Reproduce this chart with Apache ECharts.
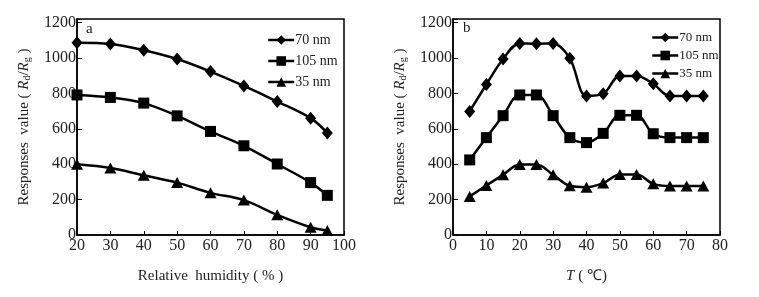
<!DOCTYPE html>
<html>
<head>
<meta charset="utf-8">
<script src="https://cdn.jsdelivr.net/npm/echarts@6/dist/echarts.min.js"></script>
<style>
  html, body { margin: 0; padding: 0; background: #fff; }
  #container { width: 759px; height: 297px; }
</style>
</head>
<body>
<div id="container"></div>
<script type="text/javascript">
// (a) response vs relative humidity
var humidity = [20, 30, 40, 50, 60, 70, 80, 90, 95];
var hum70 = [1086, 1079, 1044, 994, 923, 842, 754, 660, 576];
var hum105 = [791, 777, 745, 673, 585, 504, 401, 296, 224];
var hum35 = [399, 378, 337, 296, 238, 197, 114, 44, 25];

// (b) response vs temperature
var temps = [5, 10, 15, 20, 25, 30, 35, 40, 45, 50, 55, 60, 65, 70, 75];
var temp70 = [698, 850, 994, 1082, 1080, 1082, 998, 785, 798, 898, 898, 854, 785, 785, 785];
var temp105 = [424, 550, 674, 791, 791, 674, 550, 522, 574, 676, 676, 572, 550, 550, 550];
var temp35 = [218, 280, 340, 398, 398, 340, 278, 270, 293, 342, 342, 289, 277, 277, 277];

var yTicks = [0, 200, 400, 600, 800, 1000, 1200];
var seriesNames = ['70 nm', '105 nm', '35 nm'];
var symbols = ['diamond', 'rect', 'triangle'];

var serif = 'Liberation Serif';

function pairs(xs, ys) {
  var out = [];
  for (var i = 0; i < xs.length; i++) out.push([xs[i], ys[i]]);
  return out;
}

function mkSeries(name, xs, ys, gi) {
  var k = seriesNames.indexOf(name);
  return {
    name: name,
    type: 'line',
    xAxisIndex: gi,
    yAxisIndex: gi,
    data: pairs(xs, ys),
    smooth: 0.35,
    symbol: symbols[k],
    symbolSize: k == 0 ? [11, 13] : (k == 1 ? 11 : [12, 11]),
    lineStyle: { color: '#000', width: 2.5 },
    itemStyle: { color: '#000' },
    z: 3
  };
}

function mkX(gi, min, max, name) {
  return {
    type: 'value', gridIndex: gi, min: min, max: max, interval: 10,
    name: name, nameLocation: 'middle', nameGap: 34,
    nameTextStyle: { fontFamily: serif, fontSize: 15, color: '#222', rich: {
      i: { fontFamily: serif, fontStyle: 'italic', fontSize: 15, color: '#222' }
    } },
    axisLine: { show: true, onZero: false, lineStyle: { color: '#000', width: 1.5 } },
    axisTick: { show: true, inside: true, length: 4, lineStyle: { color: '#000' } },
    axisLabel: { fontFamily: serif, fontSize: 16, color: '#222', margin: 3 },
    splitLine: { show: false }
  };
}

function mkY(gi) {
  return {
    type: 'value', gridIndex: gi, min: 0, max: 1220, interval: 200,
    name: 'Responses  value ( {i|R}{s|d}/{i|R}{s|g} )',
    nameLocation: 'middle', nameGap: 45, nameRotate: 90,
    nameTextStyle: { fontFamily: serif, fontSize: 15, color: '#222', rich: {
      i: { fontFamily: serif, fontStyle: 'italic', fontSize: 15, color: '#222' },
      s: { fontFamily: serif, fontSize: 10, color: '#222', verticalAlign: 'bottom', padding: [6, 0, 0, 0] }
    } },
    axisLine: { show: true, lineStyle: { color: '#000', width: 1.5 } },
    axisTick: { show: true, inside: true, length: 5, lineStyle: { color: '#000' } },
    axisLabel: {
      fontFamily: serif, fontSize: 16, color: '#222', margin: 1,
      formatter: function (v) { return yTicks.indexOf(v) >= 0 ? v : ''; }
    },
    splitLine: { show: false }
  };
}

function mkLegend(left, top, gap, fs) {
  return {
    orient: 'vertical', left: left, top: top, itemGap: gap,
    itemWidth: 26, itemHeight: 12,
    data: seriesNames,
    selectedMode: false,
    lineStyle: { width: 2.5, color: '#000' },
    textStyle: { fontFamily: serif, fontSize: fs, color: '#222', padding: [0, 0, 0, -4] }
  };
}

var mychart = echarts.init(document.getElementById('container'), null, { renderer: 'canvas' });

var option = {
  animation: false,
  backgroundColor: '#fff',
  grid: [
    { left: 77, top: 19, width: 267, height: 216, show: true, borderColor: '#000', borderWidth: 1.5, backgroundColor: 'transparent' },
    { left: 453, top: 19, width: 267, height: 216, show: true, borderColor: '#000', borderWidth: 1.5, backgroundColor: 'transparent' }
  ],
  xAxis: [
    mkX(0, 20, 100, 'Relative  humidity ( % )'),
    mkX(1, 0, 80, '{i|T} ( ℃)')
  ],
  yAxis: [mkY(0), mkY(1)],
  legend: [mkLegend(262, 28, 7, 14), mkLegend(646, 26, 5, 13)],
  graphic: [
    { type: 'text', left: 86, top: 22, style: { text: 'a', font: '15px "Liberation Serif"', fill: '#222' } },
    { type: 'text', left: 463, top: 21, style: { text: 'b', font: '15px "Liberation Serif"', fill: '#222' } }
  ],
  series: [
    mkSeries('70 nm', humidity, hum70, 0),
    mkSeries('105 nm', humidity, hum105, 0),
    mkSeries('35 nm', humidity, hum35, 0),
    mkSeries('70 nm', temps, temp70, 1),
    mkSeries('105 nm', temps, temp105, 1),
    mkSeries('35 nm', temps, temp35, 1)
  ]
};

mychart.setOption(option);
</script>
</body>
</html>
